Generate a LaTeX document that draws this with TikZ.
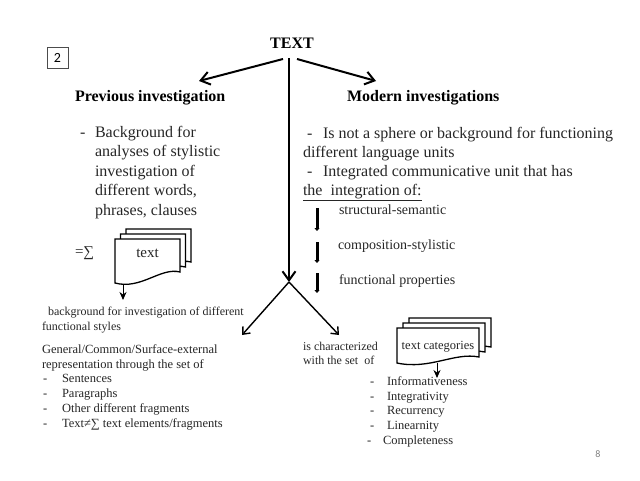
\documentclass[tikz,border=0pt]{standalone}
\usepackage{fontspec}
\setmainfont{Liberation Serif}
\newfontfamily\calib{Carlito}
\usetikzlibrary{arrows.meta}
\definecolor{bodytext}{HTML}{262626}
% x0 y0 w hl hr dx dy
\newcommand{\mydoc}[7]{%
  \foreach \k in {2,1,0}{
    \begin{scope}[shift={(\k*#6,\k*#7)}]
      \filldraw[docline] (#1,#2) -- ({#1+#3},#2) -- ({#1+#3},{#2+#5})
        .. controls ({#1+0.7*#3},{#2+#5-5}) and ({#1+0.4*#3},{#2+#4+7}) .. (#1,{#2+#4}) -- cycle;
    \end{scope}
  }%
}
\begin{document}
\begin{tikzpicture}[x=1pt,y=-1pt,
  every node/.style={inner sep=0pt, outer sep=0pt, anchor=base west, text=bodytext},
  body/.style={font=\fontsize{16}{19}\selectfont},
  head/.style={font=\fontsize{16}{19}\selectfont\bfseries, text=black},
  small/.style={font=\fontsize{12.5}{15}\selectfont},
  mid/.style={font=\fontsize{14}{17}\selectfont},
  bigarrow/.style={line width=2pt, -{Straight Barb[length=9pt,width=13pt]}},
  splitarrow/.style={line width=1.4pt, -{Straight Barb[length=6pt,width=10pt]}},
  thickarrow/.style={line width=3pt, -{Triangle[length=3pt,width=5pt]}},
  docarrow/.style={line width=1pt, -{Stealth[length=8pt,width=7pt]}},
  docline/.style={draw=black, line width=1.3pt, fill=white}]
\useasboundingbox (0,0) rectangle (640,480);

\node[draw=black!70, line width=0.6pt, minimum size=21pt, anchor=center,
      font=\calib\fontsize{14}{16}\selectfont, text=black] (num) at (57.5,57.5) {2};
\node[head, anchor=base] (text) at (292,48) {TEXT};

% main arrows
\coordinate (ls) at (283,59); \coordinate (lt) at (199,81);
\coordinate (rs) at (297,59); \coordinate (rt) at (376,81);
\coordinate (vs) at (289,58); \coordinate (vj) at (289,282);
\coordinate (yl) at (242,335); \coordinate (yr) at (339,335);
\draw[bigarrow] (ls) -- (lt);
\draw[bigarrow] (rs) -- (rt);
\draw[bigarrow] (vs) -- (vj);
\draw[splitarrow] (vj) -- (yl);
\draw[splitarrow] (vj) -- (yr);

\node[head] (prev) at (75,101) {Previous investigation};
\node[head] (modern) at (347,101) {Modern investigations};

% left list
\node[body] (ld) at (80,137) {-};
\node[body] (l1) at (95,137) {Background for};
\node[body] (l2) at (95,156.5) {analyses of stylistic};
\node[body] (l3) at (95,176) {investigation of};
\node[body] (l4) at (95,195.5) {different words,};
\node[body] (l5) at (95,215) {phrases, clauses};

% right text
\node[body] (rd1) at (307,138) {-};
\node[body] (r1) at (323,138) {Is not a sphere or background for functioning};
\node[body] (r2) at (303,157) {different language units};
\node[body] (rd2) at (307,176) {-};
\node[body] (r3) at (323,176) {Integrated communicative unit that has};
\node[body] (r4) at (303,195) {\underline{the\ \ integration of:}};

% small arrows
\coordinate (a1s) at (317,208); \coordinate (a1e) at (317,231);
\coordinate (a2s) at (317,242); \coordinate (a2e) at (317,263);
\coordinate (a3s) at (317,273); \coordinate (a3e) at (317,293);
\draw[thickarrow] (a1s) -- (a1e);
\draw[thickarrow] (a2s) -- (a2e);
\draw[thickarrow] (a3s) -- (a3e);
\node[mid] (p1) at (339,214) {structural-semantic};
\node[mid] (p2) at (338,249) {composition-stylistic};
\node[mid] (p3) at (339,284) {functional properties};

% left document stack
\mydoc{115}{239}{65}{44}{33}{5.5}{-5}
\node[font=\fontsize{15}{18}\selectfont, anchor=base] (doc1) at (147.5,257) {text};
\node[font=\fontsize{15}{18}\selectfont] (sum) at (75,256) {=∑};
\coordinate (d1s) at (123,284); \coordinate (d1e) at (123,300);
\draw[docarrow] (d1s) -- (d1e);

\node[font=\fontsize{12}{14}\selectfont] (bg1) at (48,315) {background for investigation of different};
\node[font=\fontsize{12}{14}\selectfont] (bg2) at (42,330) {functional styles};

\node[small] (g1) at (42,353) {General/Common/Surface-external};
\node[small] (g2) at (42,368) {representation through the set of};
\node[small] (gd1) at (43,382) {-}; \node[small] (g3) at (62,382) {Sentences};
\node[small] (gd2) at (43,397) {-}; \node[small] (g4) at (62,397) {Paragraphs};
\node[small] (gd3) at (43,412) {-}; \node[small] (g5) at (62,412) {Other different fragments};
\node[small] (gd4) at (43,427) {-}; \node[small] (g6) at (62,427) {Text≠∑ text elements/fragments};

% right bottom
\node[font=\fontsize{12}{14}\selectfont] (c1) at (303,350) {is characterized};
\node[font=\fontsize{12}{14}\selectfont] (c2) at (303,364) {with the set\ \ of};
\mydoc{397}{328}{82}{35}{29}{6}{-5}
\node[small, anchor=base] (doc2) at (438,349) {text categories};
\coordinate (d2s) at (437,363); \coordinate (d2e) at (437,378);
\draw[docarrow] (d2s) -- (d2e);

\node[small] (kd1) at (370,385) {-}; \node[small] (k1) at (387,385) {Informativeness};
\node[small] (kd2) at (370,400) {-}; \node[small] (k2) at (387,400) {Integrativity};
\node[small] (kd3) at (370,414) {-}; \node[small] (k3) at (387,414) {Recurrency};
\node[small] (kd4) at (370,429) {-}; \node[small] (k4) at (387,429) {Linearnity};
\node[small] (kd5) at (367,444) {-}; \node[small] (k5) at (383,444) {Completeness};

\node[font=\calib\fontsize{10}{12}\selectfont, text=gray, anchor=center] (page) at (598,454) {8};
\end{tikzpicture}
\end{document}
